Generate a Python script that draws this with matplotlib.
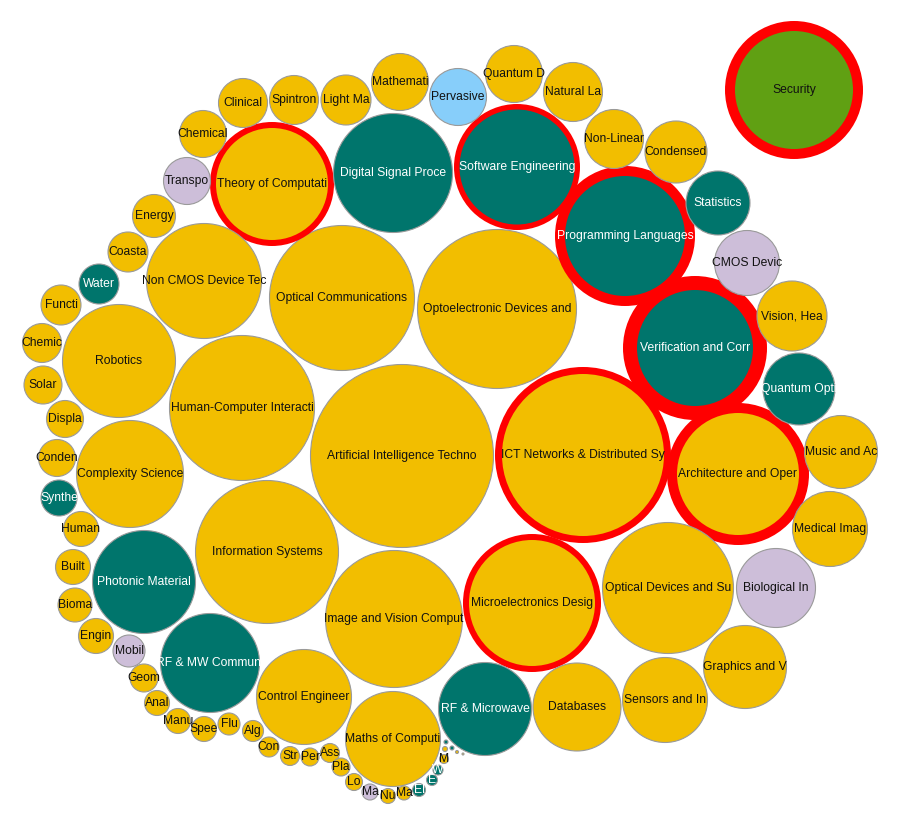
import matplotlib
matplotlib.use("Agg")
import matplotlib.pyplot as plt
from matplotlib.patches import Circle

# bubble labels (truncated like the original)
labels = [
    "Security", "Artificial Intelligence Techno", "ICT Networks & Distributed Sy",
    "Optoelectronic Devices and", "Optical Communications", "Human-Computer Interacti",
    "Information Systems", "Verification and Corr", "Programming Languages",
    "Architecture and Oper", "Image and Vision Comput", "Microelectronics Desig",
    "Optical Devices and Su", "Software Engineering", "Theory of Computati",
    "Digital Signal Proce", "Non CMOS Device Tec", "Robotics", "Complexity Science",
    "Photonic Material", "RF & MW Communi", "Control Engineer", "Maths of Computi",
    "RF & Microwave", "Databases", "Sensors and In", "Graphics and V",
    "Biological In", "Medical Imag", "Music and Ac", "Quantum Opti", "Vision, Hea",
    "CMOS Devic", "Statistics", "Condensed", "Non-Linear", "Natural La", "Quantum D",
    "Pervasive", "Mathemati", "Light Ma", "Spintron", "Clinical", "Chemical",
    "Transpo", "Energy", "Coasta", "Water", "Functi", "Chemic", "Solar", "Displa",
    "Conden", "Synthe", "Human", "Built", "Bioma", "Engin", "Mobil", "Geom", "Anal",
    "Manu", "Spee", "Flu", "Alg", "Con", "Str", "Per", "Ass", "Pla", "Lo", "Ma",
    "Nu", "Ma", "El", "E", "W", "M", "", "", "", "", "",
]

# bubble radius (value)
sizes = [
    69, 92, 88, 80, 73, 73, 72, 72, 70, 71, 69, 69, 66, 63, 62,
    60, 58, 57, 54, 52, 50, 48, 48, 47, 44.5, 43, 42, 40, 38, 37, 36.5, 35.5,
    33, 32.5, 31.5, 30, 30, 29, 29, 29, 25.5, 25, 25, 24, 24, 22, 20.5, 20.5,
    20.5, 20, 19.5, 19, 19, 18.5, 18, 18, 17.5, 18, 16.5, 14.5, 13, 13, 13,
    11.5, 11, 10.5, 10, 9.5, 10, 9.5, 9, 8.5, 8, 7.5, 7, 6, 5.5, 5,
    2.5, 3, 2.5, 2, 1.5,
]

# group: y = yellow, t = teal, p = purple, b = light blue, g = green
groups = list(
    "gyyyyyytty"
    "yyytytyyyt"
    "tyytyyypyy"
    "typtyyyyby"
    "yyyypyytyy"
    "yyytyyyypy"
    "yyyyyyyyyy"
    "ypyytttyty"
    "tyy"
)

# red ring width (0 = no ring)
rings = [10, 0, 7, 0, 0, 0, 0, 14, 10, 10, 0, 6, 0, 5.5, 6] + [0] * 68

# layout
cx = [
    794, 402, 583, 497, 342, 242, 267, 695, 625, 738, 394, 532, 668, 517, 272,
    393, 204, 119, 130, 144, 210, 304, 393, 485, 577, 665, 745, 776, 830, 841,
    799, 792, 747, 718, 676, 614, 573, 514, 458, 400, 346, 294, 243, 203, 187,
    154, 128, 99, 61, 42, 43, 65, 57, 59, 81, 73, 75, 96, 129, 144, 157, 178,
    204, 229, 253, 269, 290, 310, 330, 341, 354, 370, 388, 404, 419, 432, 438,
    444, 446, 445, 452, 457, 463,
]
cy = [
    90, 456, 455, 309, 298, 408, 552, 348, 236, 474, 619, 603, 588, 167, 184,
    173, 281, 361, 474, 582, 663, 697, 739, 709, 707, 700, 667, 588, 529, 452,
    389, 316, 263, 203, 152, 139, 92, 74, 97, 82, 100, 100, 103, 134, 181,
    216, 252, 284, 305, 343, 385, 419, 458, 498, 529, 567, 605, 636, 651, 678,
    703, 721, 729, 724, 731, 747, 756, 757, 753, 767, 782, 792, 796, 793, 790,
    780, 770, 759, 742, 749, 748, 752, 754,
]

colors = {"y": "#f2be00", "t": "#00756c", "p": "#cdbed9", "b": "#87cefa", "g": "#60a013"}
px = 72 / 100  # pixel -> point

fig = plt.figure(figsize=(8.98, 8.13), dpi=100)
ax = fig.add_axes([0, 0, 1, 1])
ax.set_xlim(0, 898)
ax.set_ylim(813, 0)
ax.set_aspect("equal")
ax.axis("off")

order = sorted(range(len(labels)), key=lambda i: -sizes[i])
for z, i in enumerate(order):
    r = sizes[i]
    face = colors[groups[i]]
    if rings[i] > 0:
        w = rings[i]
        ax.add_patch(Circle((cx[i], cy[i]), r - w / 2, facecolor=face,
                            edgecolor="#ff0000", linewidth=w * px, zorder=2 * z))
    else:
        ax.add_patch(Circle((cx[i], cy[i]), r - 0.5, facecolor=face,
                            edgecolor="#9a9a9a", linewidth=0.8, zorder=2 * z))
    if labels[i]:
        tc = "white" if groups[i] == "t" else "#111111"
        ax.text(cx[i], cy[i], labels[i], ha="center", va="center",
                fontsize=8.7, family=["Liberation Sans", "DejaVu Sans"],
                color=tc, zorder=2 * z + 1)

fig.savefig("out.png", dpi=100)
